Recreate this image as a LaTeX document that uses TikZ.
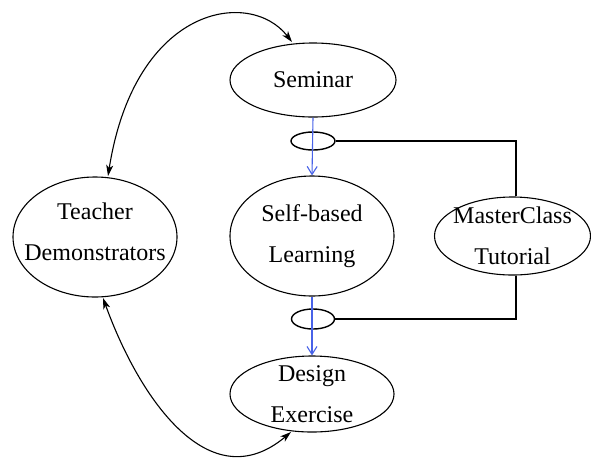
\documentclass[tikz,border=0pt]{standalone}
\usepackage{fontspec}
\setmainfont{Liberation Serif}
\usetikzlibrary{arrows.meta,shapes.geometric}
\definecolor{flowblue}{RGB}{72,98,232}
\begin{document}
\begin{tikzpicture}[x=1pt,y=-1pt,
  every node/.style={font=\fontsize{24}{41}\selectfont},
  topic/.style={ellipse, draw, line width=1.1pt, inner xsep=-40pt, inner ysep=-20pt,
    align=center},
  ring/.style={ellipse, draw, line width=1.4pt, inner sep=0pt},
  link/.style={line width=1.1pt},
  flow/.style={line width=1.1pt, draw=flowblue, -{Straight Barb[length=8pt,width=10pt,line width=1.1pt]}},
  swap/.style={line width=1.1pt, {Stealth[length=11pt,width=7pt,inset=3pt]}-{Stealth[length=11pt,width=7pt,inset=3pt]}}]
\useasboundingbox (0,0) rectangle (591,459);

% main sequence
\node[topic, minimum width=166pt, minimum height=74pt] (sem) at (313,80) {Seminar};
\node[topic, minimum width=164pt, minimum height=120pt] (self) at (312,236) {Self-based\\Learning};
\node[topic, minimum width=164pt, minimum height=76pt] (des) at (312,394)
  {\fontsize{24}{46}\selectfont Design\\Exercise};

% side nodes
\node[topic, minimum width=164pt, minimum height=120pt] (teach) at (95,237)
  {Teacher\\Demonstrators\rule[-10pt]{0pt}{10pt}};
\node[topic, minimum width=156pt, minimum height=78pt] (mc) at (512.5,236) {MasterClass\\Tutorial};

% junction rings
\node[ring, minimum width=44pt, minimum height=18pt] (r1) at (313,141) {};
\node[ring, minimum width=43pt, minimum height=20pt] (r2) at (313,319) {};

% tutorial links to the rings
\draw[link] (r1.east) -| ([xshift=3.5pt]mc.north);
\draw[link] (r2.east) -| ([xshift=3.5pt]mc.south);

% flow arrows
\draw[flow] (sem.south) -- (self.north);
\draw[flow] (self.south) -- (des.north);

% curved two-way links
\coordinate (ta) at (108,176);
\coordinate (sa) at (292,42);
\coordinate (tb) at (103,298);
\coordinate (da) at (291,432);
\draw[swap] (ta) .. controls (135,5) and (250,-12) .. (sa);
\draw[swap] (tb) .. controls (140,400) and (210,500) .. (da);
\end{tikzpicture}
\end{document}
